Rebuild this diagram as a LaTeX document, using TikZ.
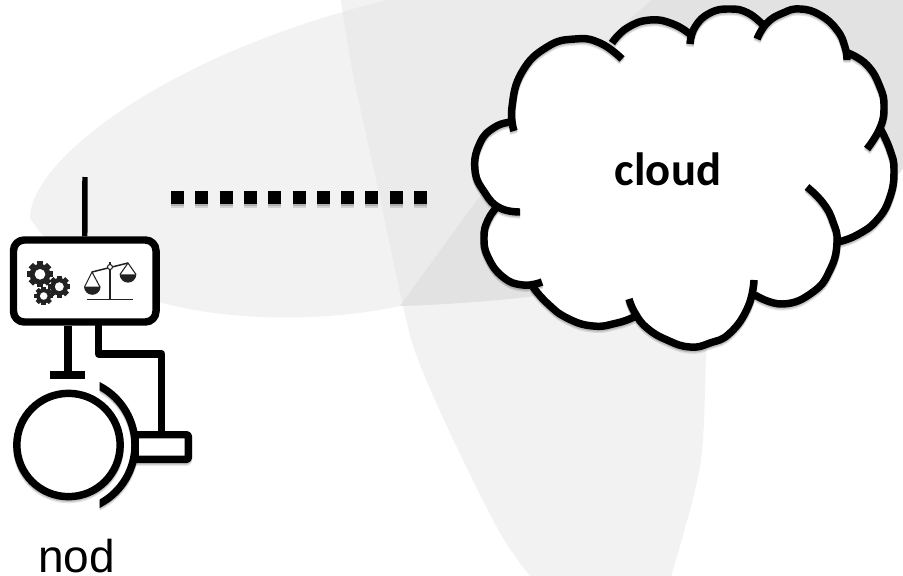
\documentclass[tikz,border=0pt]{standalone}
\usepackage{xcolor}
\usepackage{fontspec}
\setmainfont{Liberation Sans}
\newfontfamily\cloudfont{Carlito}
\definecolor{iconblack}{HTML}{222222}
\definecolor{petalone}{HTML}{F2F2F2}
\definecolor{petaltwo}{HTML}{EBEBEB}
\definecolor{petalthree}{HTML}{E2E2E2}
\usetikzlibrary{arrows.meta, positioning, calc}

\newcommand{\blobpath}{
    (30,218) .. controls (30,160) and (170,50) .. (400,-3) -- (908,-3) -- (908,160)
    .. controls (860,250) and (600,300) .. (400,306)
    .. controls (300,328) and (100,328) .. (30,218)
}
\newcommand{\petalpath}{
    plot[smooth] coordinates {(340,-5) (353,74) (377,184) (403,306) (417,357) (450,433) (500,533) (533,580)}
    -- plot[smooth] coordinates {(670,580) (700,467) (706,360) (712,200) (740,-5)} -- cycle
}
\newcommand{\cloudarcs}{
    plot[smooth, tension=0.8] coordinates {(514,131) (512,107) (522,72) (547,47) (575,39) (600,43) (622,59)}
    plot[smooth, tension=0.8] coordinates {(612,43) (627,28) (650,20) (673,24) (691,35)}
    plot[smooth, tension=0.8] coordinates {(690,44) (695,27) (710,13) (730,9) (748,13) (763,25)}
    plot[smooth, tension=0.8] coordinates {(757,39) (767,23) (783,13) (800,9) (820,15) (837,30) (845,47) (847,60)}
    plot[smooth, tension=0.8] coordinates {(848,53) (867,65) (880,87) (884,107) (880,128) (867,149)}
    plot[smooth, tension=0.8] coordinates {(881,130) (890,150) (894,170) (890,197) (877,220) (857,235) (838,242)}
    plot[smooth, tension=0.8] coordinates {(807,187) (823,203) (833,222) (837,243) (830,270) (813,292) (783,304) (755,295)}
    plot[smooth, tension=0.8] coordinates {(754,280) (748,307) (730,333) (710,343) (690,347) (667,340) (647,328) (635,313) (629,299)}
    plot[smooth, tension=0.8] coordinates {(634,317) (617,323) (593,326) (567,318) (547,303) (533,287)}
    plot[smooth, tension=0.8] coordinates {(542,282) (523,285) (503,277) (488,257) (484,237) (488,220) (497,207)}
    plot[smooth, tension=0.8] coordinates {(520,212) (500,208) (485,193) (475,170) (480,143) (495,127) (512,122)}
}

\begin{document}
\begin{tikzpicture}[
    x=0.75pt, y=-0.75pt,
    softshadow/.style={
        preaction={draw=black, line width=#1, opacity=0.10, transform canvas={yshift=-2.2pt}},
        preaction={draw=black, line width=#1, opacity=0.14, transform canvas={yshift=-1.2pt}}},
    shadowstroke/.style 2 args={black, opacity=#1, transform canvas={yshift=-#2}},
    thickline/.style={draw=black, line width=5.6pt, line join=round},
    ctrlbox/.style={thickline, fill=white, rounded corners=8pt, inner sep=0pt,
                    minimum width=106.9pt, minimum height=61.5pt},
    motorcirc/.style={thickline, softshadow=5.6pt, circle, fill=white, inner sep=0pt, minimum size=77.5pt},
    actuatorbox/.style={thickline, softshadow=5.6pt, fill=white, rounded corners=1pt, inner sep=0pt,
                    minimum width=40pt, minimum height=18.4pt},
    stembar/.style={fill=black, inner sep=0pt, minimum width=26.2pt, minimum height=6pt},
    dotlink/.style={line width=9.75pt, dash pattern=on 9.75pt off 8.475pt},
    gearicon/.pic={
        \foreach \a in {0,45,...,315}
            \fill[iconblack, rotate=\a] (-0.24,0.6) rectangle (0.24,1);
        \fill[iconblack, even odd rule] (0,0) circle (0.8) (0,0) circle (0.42);
    },
]
\useasboundingbox (0,0) rectangle (903,575);

% Background petals
\begin{scope}
\clip (0,0) rectangle (903,575);
\fill[petalone] \blobpath;
\fill[petalone] \petalpath;
\begin{scope}
\clip \blobpath;
\fill[petaltwo] \petalpath;
\end{scope}
\fill[petalthree] (400,306) -- (477,200) -- (610,37) -- (657,-5) -- (908,-5) -- (908,160)
    .. controls (860,250) and (600,300) .. (400,306);
\end{scope}

% Cloud
\fill[white] plot coordinates {(512,107) (522,72) (547,47) (575,39) (612,43) (627,28) (650,20) (673,24)
    (691,35) (695,27) (710,13) (730,9) (748,13) (763,25) (783,13) (800,9) (820,15) (837,30) (845,47)
    (848,53) (867,65) (880,87) (884,107) (881,130) (890,150) (894,170) (890,197) (877,220) (857,235)
    (837,243) (830,270) (813,292) (783,304) (755,295) (748,307) (730,333) (710,343) (690,347) (667,340)
    (647,328) (634,317) (617,323) (593,326) (567,318) (547,303) (533,287) (523,285) (503,277) (488,257)
    (484,237) (488,220) (497,207) (485,193) (475,170) (480,143) (495,127) (512,122)} -- cycle;
\draw[shadowstroke={0.10}{2.2pt}, line width=5.6pt] \cloudarcs;
\draw[shadowstroke={0.14}{1.2pt}, line width=5.6pt] \cloudarcs;
\draw[black, line width=5.6pt] \cloudarcs;
\node[font=\cloudfont\bfseries\fontsize{35}{40}\selectfont, anchor=base] (cloudlabel) at (668,185) {cloud};

% Dotted link
\coordinate (linkstart) at (171,197.5);
\coordinate (linkend) at (427,197.5);
\draw[dotlink, shadowstroke={0.12}{3pt}] (linkstart) -- (linkend);
\draw[dotlink, shadowstroke={0.16}{1.6pt}] (linkstart) -- (linkend);
\draw[dotlink] (linkstart) -- (linkend);

% Controller with its icons
\coordinate (antenna) at (85,177);
\node[ctrlbox] (ctrl) at (84.75,281) {};
\draw[line width=4.1pt] (antenna) -- (ctrl.north);
\foreach \gx/\gy/\gr/\gname in {40/274.3/13/gearbig, 59.3/286.7/11/gearmid, 43.7/296/9.3/gearsmall}
    \pic (\gname) at (\gx,\gy) [scale=\gr] {gearicon};

% Balance
\coordinate (pivot) at (110,267);
\coordinate (beamleft) at (92,272);
\coordinate (beamright) at (128,263);
\coordinate (baseleft) at (87,299.5);
\coordinate (baseright) at (133,299.5);
\begin{scope}[iconblack, line width=1.1pt]
\draw (baseleft) -- (baseright);
\draw (110,262) -- (110,299.5);
\draw (beamleft) -- (beamright);
\draw[line width=0.8pt] (84.5,287) -- (beamleft) -- (100,287);
\draw[line width=0.8pt] (120,274.5) -- (beamright) -- (136,274.5);
\fill (84,286.5) arc[start angle=180, end angle=0, radius=8.3] -- cycle;
\fill (119.7,274.3) arc[start angle=180, end angle=0, radius=8.3] -- cycle;
\filldraw[fill=white, line width=0.8pt] (pivot) circle (2.5);
\end{scope}

% Motor, brake and actuator
\node[actuatorbox] (actuator) at (161.7,447) {};
\node[motorcirc] (motor) at (68.5,445) {};
\begin{scope}
\clip (99.6,370) rectangle (145,520);
\draw[softshadow=5.6pt, line width=5.6pt] ([shift={(-72:66.5)}]motor.center) arc[start angle=-72, end angle=72, radius=66.5];
\end{scope}
\node[stembar] (bar) at (67.6,375) {};
\draw[line width=6pt] (bar.center) -- (bar.center |- ctrl.south);
\coordinate (tap) at (98.7,322);
\draw[thickline] (tap) -- ++(0,32) -| (actuator.north);

\node[font=\fontsize{34.5}{40}\selectfont, anchor=base, inner sep=0pt] (nodlabel) at (76.5,572) {nod};
\end{tikzpicture}
\end{document}
